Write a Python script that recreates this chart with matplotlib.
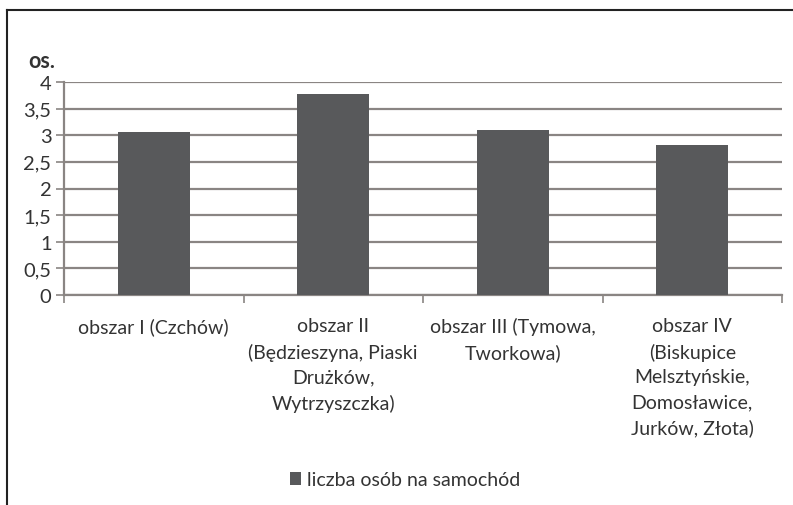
import matplotlib.pyplot as plt
from matplotlib.lines import Line2D
import numpy as np

plt.rcParams['font.family'] = ['Lato', 'DejaVu Sans']

# dane
categories = ['obszar I (Czchów)',
              'obszar II\n(Będzieszyna, Piaski\nDrużków,\nWytrzyszczka)',
              'obszar III (Tymowa,\nTworkowa)',
              'obszar IV\n(Biskupice\nMelsztyńskie,\nDomosławice,\nJurków, Złota)']
values = [3.07, 3.78, 3.09, 2.81]
yticks = [0, 0.5, 1, 1.5, 2, 2.5, 3, 3.5, 4]
ytick_labels = ['0', '0,5', '1', '1,5', '2', '2,5', '3', '3,5', '4']
series_name = 'liczba osób na samochód'

grid_col = '#8a8583'
bar_col = '#58595b'
text_col = '#333333'

fig = plt.figure(figsize=(7.93, 5.06), dpi=100)
ax = fig.add_axes([64/793, 1-296/506, (782-64)/793, (296-83)/506])

x = np.arange(len(categories))
bars = ax.bar(x, values, width=0.4, color=bar_col, zorder=3, label=series_name)

ax.set_xlim(-0.5, len(categories) - 0.5)
ax.set_ylim(0, 4)
ax.set_yticks(yticks)
ax.set_yticklabels(ytick_labels, fontsize=14.5, color=text_col)
ax.yaxis.grid(True, color=grid_col, linewidth=1.6, zorder=0)

ax.set_xticks(x)
ax.set_xticklabels(categories, fontsize=14, color=text_col, linespacing=1.55, va='top')
ax.set_xticks(np.arange(-0.5, len(categories)), minor=True)
ax.tick_params(axis='x', which='major', length=0, pad=16)
ax.tick_params(axis='x', which='minor', length=6, width=1.2, color=grid_col, direction='out')
ax.tick_params(axis='y', length=6, width=1.2, color=grid_col, pad=3)

for s in ['top', 'right']:
    ax.spines[s].set_visible(False)
for s in ['left', 'bottom']:
    ax.spines[s].set_color(grid_col)
    ax.spines[s].set_linewidth(1.6)

fig.text(28/793, 1-62/506, 'os.', fontsize=15.5, fontweight='bold', color=text_col, va='center')

fig.legend(handles=[bars], loc='center', bbox_to_anchor=(405/793, 1-481/506),
           frameon=False, fontsize=14, handlelength=0.6, handleheight=0.6,
           handletextpad=0.3, labelcolor=text_col)

# ramka
fig.add_artist(Line2D([7/793, 7/793], [0, 1-11/506], color='#222222', linewidth=1.5))
fig.add_artist(Line2D([7/793, 1], [1-11/506, 1-11/506], color='#222222', linewidth=1.5))

fig.savefig('out.png', dpi=100)
